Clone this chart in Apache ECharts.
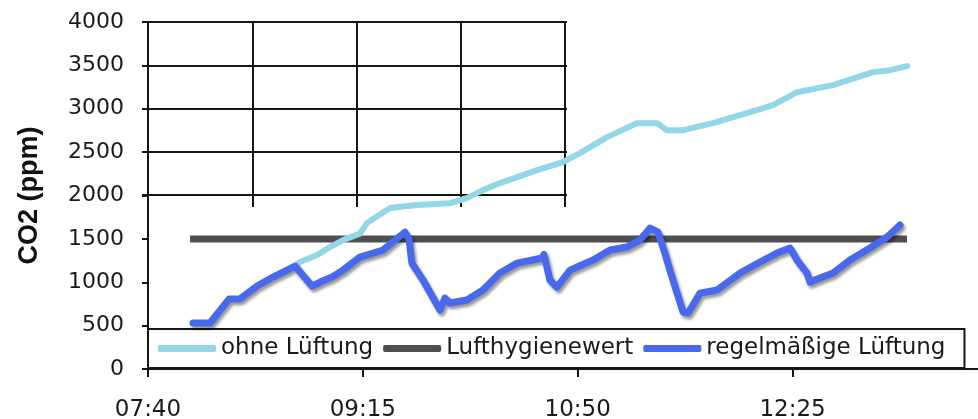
<!DOCTYPE html>
<html>
<head>
<meta charset="utf-8">
<script src="https://cdn.jsdelivr.net/npm/echarts@6/dist/echarts.min.js"></script>
<style>
  html, body { margin: 0; padding: 0; background: #fff; }
  #chart { width: 978px; height: 419px; }
</style>
</head>
<body>
<div id="chart"></div>
<script>
// Minuten nach 07:40
var xTickLabels = ['07:40', '09:15', '10:50', '12:25'];

var minOhne = [65.0, 67.2, 74.7, 80.5, 86.2, 93.7, 96.8, 107.0, 118.9, 133.5, 141.0, 148.1, 155.6, 163.2,
    172.0, 183.5, 191.0, 203.0, 216.2, 225.1, 229.5, 236.6, 249.8, 261.8, 276.4, 287.0, 302.9, 320.6, 328.1, 335.6];
var co2Ohne = [1187, 1233, 1313, 1406, 1486, 1560, 1682, 1855, 1890, 1912, 1970, 2062, 2143, 2212,
    2293, 2385, 2488, 2673, 2834, 2834, 2753, 2753, 2834, 2926, 3041, 3191, 3272, 3422, 3445, 3491];

var minLimit = [18.6, 335.6];
var co2Limit = [1500, 1500];

var minRegel = [19.9, 27.4, 35.8, 40.7, 48.2, 55.3, 65.0, 72.5, 76.1, 81.4, 86.2, 93.7, 103.9, 113.6, 115.4,
    116.7, 121.6, 129.1, 131.3, 133.5, 141.0, 148.1, 155.6, 163.2, 174.2, 175.1, 177.7, 180.8, 186.6, 189.7,
    196.8, 204.3, 211.8, 217.5, 222.0, 225.5, 227.7, 232.1, 236.6, 238.8, 244.1, 251.6, 261.8, 270.6, 278.1,
    283.9, 287.0, 291.4, 292.7, 297.1, 302.9, 310.4, 319.2, 326.8, 332.5];
var co2Regel = [530, 530, 806, 810, 956, 1060, 1187, 956, 1002, 1060, 1140, 1290, 1371, 1578, 1500,
    1221, 1025, 680, 818, 760, 795, 910, 1106, 1221, 1279, 1320, 1025, 945, 1140, 1175,
    1256, 1371, 1406, 1486, 1624, 1578, 1406, 1025, 657, 645, 875, 910, 1106, 1233, 1336,
    1394, 1256, 1106, 1002, 1048, 1106, 1256, 1394, 1521, 1659];

function pairs(xs, ys) {
    var out = [];
    for (var i = 0; i < xs.length; i++) {
        out.push([xs[i], ys[i]]);
    }
    return out;
}

var black = '#151515';
var font = 'DejaVu Sans';

var my_chart = echarts.init(document.getElementById('chart'));
var option = {
    backgroundColor: '#fff',
    animation: false,
    grid: [
        { left: 148, top: 22, right: 0, bottom: 50, outerBoundsMode: 'none' },
        // Gitter oben links (senkrechte Linien)
        { left: 148, top: 22, width: 417, height: 185, outerBoundsMode: 'none' },
        // Gitter oben links (waagerechte Linien)
        { left: 142, top: 22, width: 425, height: 173, outerBoundsMode: 'none' }
    ],
    xAxis: [{
        type: 'value',
        min: 0,
        max: 367,
        interval: 95,
        splitLine: { show: false },
        axisLine: { lineStyle: { color: black, width: 2 } },
        axisTick: { length: 8, lineStyle: { color: black, width: 2 } },
        axisLabel: {
            margin: 30,
            fontFamily: font,
            fontSize: 23,
            color: '#1a1a1a',
            showMaxLabel: false,
            formatter: function (v) {
                return xTickLabels[Math.round(v / 95)] || '';
            }
        }
    }, {
        gridIndex: 1,
        type: 'value',
        min: 0,
        max: 4,
        interval: 1,
        axisLine: { show: false },
        axisTick: { show: false },
        axisLabel: { show: false },
        splitLine: { show: true, lineStyle: { color: black, width: 2 } }
    }, {
        gridIndex: 2,
        type: 'value',
        show: false
    }],
    yAxis: [{
        type: 'value',
        min: 0,
        max: 4000,
        interval: 500,
        name: 'CO2 (ppm)',
        nameLocation: 'middle',
        nameGap: 105,
        nameTextStyle: {
            fontFamily: 'Liberation Sans',
            fontWeight: 'bold',
            fontSize: 27,
            color: '#111'
        },
        splitLine: { show: false },
        axisLine: { show: true, lineStyle: { color: black, width: 2 } },
        axisTick: { show: true, length: 6, lineStyle: { color: black, width: 2 } },
        axisLabel: {
            margin: 24,
            fontFamily: font,
            fontSize: 22,
            color: '#1a1a1a',
            formatter: function (v) {
                return String(v);
            }
        }
    }, {
        gridIndex: 1,
        type: 'value',
        show: false
    }, {
        gridIndex: 2,
        type: 'value',
        min: 2000,
        max: 4000,
        interval: 500,
        axisLine: { show: false },
        axisTick: { show: false },
        axisLabel: { show: false },
        splitLine: { show: true, lineStyle: { color: black, width: 2 } }
    }],
    legend: {
        left: 148,
        top: 329,
        padding: [8, 19, 8, 10],
        borderColor: black,
        borderWidth: 2,
        itemWidth: 58,
        itemHeight: 7,
        itemGap: 10,
        icon: 'roundRect',
        textStyle: { fontFamily: font, fontSize: 23, color: '#1a1a1a' },
        data: ['ohne Lüftung', 'Lufthygienewert', 'regelmäßige Lüftung']
    },
    series: [{
        name: 'Lufthygienewert',
        type: 'line',
        symbol: 'none',
        color: '#4e4e4e',
        lineStyle: { width: 7, color: '#4e4e4e' },
        data: pairs(minLimit, co2Limit),
        z: 2
    }, {
        name: 'ohne Lüftung',
        type: 'line',
        symbol: 'none',
        color: '#93d6e7',
        lineStyle: { width: 6, color: '#93d6e7', cap: 'round', join: 'round' },
        data: pairs(minOhne, co2Ohne),
        z: 3
    }, {
        name: 'regelmäßige Lüftung',
        type: 'line',
        symbol: 'none',
        color: '#4868ee',
        lineStyle: {
            width: 7,
            color: '#4868ee',
            cap: 'round',
            join: 'round',
            shadowColor: 'rgba(0,0,0,0.4)',
            shadowBlur: 3,
            shadowOffsetX: 2,
            shadowOffsetY: 3
        },
        data: pairs(minRegel, co2Regel),
        z: 4
    }]
};

my_chart.setOption(option);
</script>
</body>
</html>
